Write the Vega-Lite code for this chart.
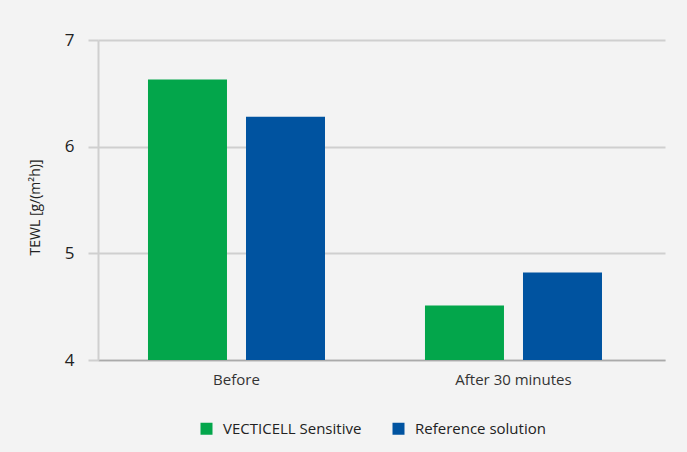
{
  "$schema": "https://vega.github.io/schema/vega-lite/v6.json",
  "width": 567,
  "height": 320,
  "autosize": {"type": "none"},
  "padding": {"left": 98, "top": 40, "right": 22, "bottom": 92},
  "background": "#f3f3f3",
  "config": {
    "view": {"stroke": null},
    "font": "Open Sans",
    "axis": {"labelColor": "#222222", "titleColor": "#222222"}
  },
  "data": {
    "values": [
      {"time": "Before", "product": "VECTICELL Sensitive", "tewl": 6.63},
      {"time": "Before", "product": "Reference solution", "tewl": 6.28},
      {"time": "After 30 minutes", "product": "VECTICELL Sensitive", "tewl": 4.51},
      {"time": "After 30 minutes", "product": "Reference solution", "tewl": 4.82}
    ]
  },
  "mark": {"type": "bar"},
  "encoding": {
    "x": {
      "field": "time",
      "type": "nominal",
      "sort": ["Before", "After 30 minutes"],
      "scale": {"paddingInner": 0, "paddingOuter": 0.0235, "align": 0},
      "axis": {
        "title": null,
        "labelAngle": 0,
        "ticks": false,
        "domainColor": "#aaaaaa",
        "domainWidth": 1.5,
        "labelFontSize": 15,
        "labelPadding": 12,
        "labelColor": "#333333"
      }
    },
    "xOffset": {
      "field": "product",
      "type": "nominal",
      "sort": ["VECTICELL Sensitive", "Reference solution"],
      "scale": {"paddingInner": 0.194, "paddingOuter": 0.51}
    },
    "y": {
      "field": "tewl",
      "type": "quantitative",
      "scale": {"domain": [4, 7], "zero": false, "nice": false},
      "axis": {
        "values": [4, 5, 6, 7],
        "title": "TEWL [g/(m²h)]",
        "titleFontSize": 14,
        "titleFontWeight": "normal",
        "titleAngle": -90,
        "titleX": -63,
        "titleY": 167,
        "titleAlign": "center",
        "titleBaseline": "middle",
        "labelFontSize": 17,
        "labelPadding": 14,
        "tickSize": 10,
        "tickColor": "#cfcfcf",
        "tickWidth": 2,
        "domainColor": "#cfcfcf",
        "domainWidth": 2,
        "gridColor": "#cfcfcf",
        "gridWidth": 2
      }
    },
    "y2": {"datum": 4},
    "color": {
      "field": "product",
      "type": "nominal",
      "sort": ["VECTICELL Sensitive", "Reference solution"],
      "scale": {"range": ["#03a64b", "#0053a0"]},
      "legend": {
        "title": null,
        "orient": "none",
        "direction": "horizontal",
        "legendX": 101,
        "legendY": 381,
        "symbolType": "square",
        "symbolSize": 144,
        "symbolStrokeWidth": 0,
        "labelFontSize": 15,
        "labelColor": "#222222",
        "labelOffset": 9,
        "columnPadding": 29
      }
    }
  }
}
